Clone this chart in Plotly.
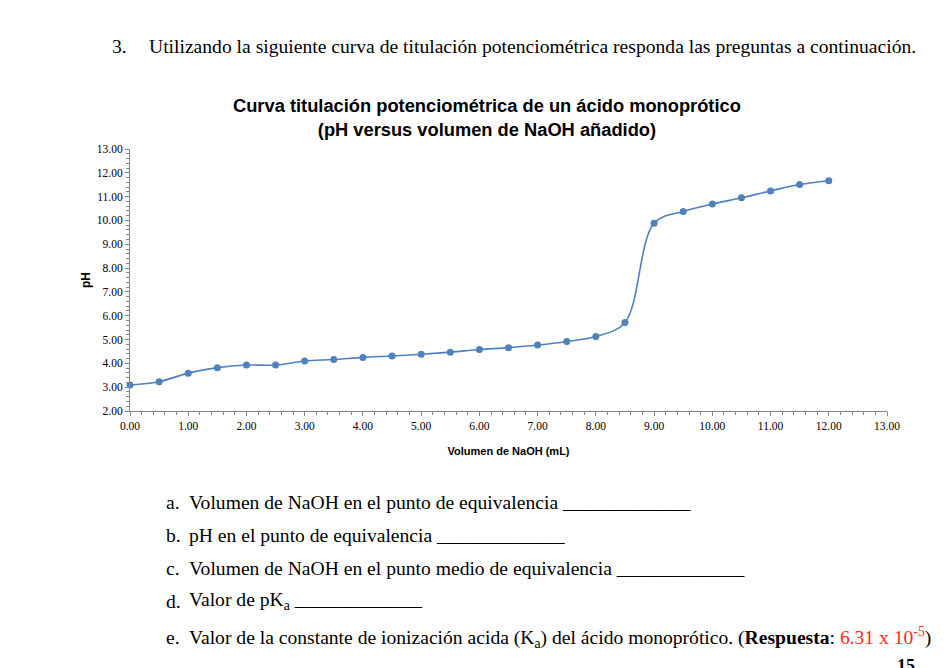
import plotly.graph_objects as go

volumen_naoh = [0.0, 0.5, 1.0, 1.5, 2.0, 2.5, 3.0, 3.5, 4.0, 4.5, 5.0, 5.5, 6.0,
                6.5, 7.0, 7.5, 8.0, 8.5, 9.0, 9.5, 10.0, 10.5, 11.0, 11.5, 12.0]
ph_values = [3.09, 3.23, 3.59, 3.82, 3.93, 3.93, 4.10, 4.16, 4.25, 4.31, 4.38, 4.47, 4.58,
             4.66, 4.77, 4.92, 5.13, 5.72, 9.88, 10.38, 10.69, 10.95, 11.24, 11.51, 11.67]

x_ticks = [i * 1.0 for i in range(14)]
y_ticks = [float(i) for i in range(2, 14)]

chart_title = "Curva titulación potenciométrica de un ácido monoprótico<br>(pH versus volumen de NaOH añadido)"
x_title = "Volumen de NaOH (mL)"
y_title = "pH"

heading_num = "3."
heading_text = "Utilizando la siguiente curva de titulación potenciométrica responda las preguntas a continuación."
q_letters = ["a.", "b.", "c.", "d.", "e."]
q_texts = [
    "Volumen de NaOH en el punto de equivalencia _____________",
    "pH en el punto de equivalencia _____________",
    "Volumen de NaOH en el punto medio de equivalencia _____________",
    "Valor de pK<sub>a</sub> _____________",
    "Valor de la constante de ionización acida (K<sub>a</sub>) del ácido monoprótico. (<b>Respuesta</b>: "
    "<span style='color:#FF2A1A'>6.31 x 10<sup>-5</sup></span>)",
]
page_number = "15"

# page has an 8px body margin: figure coords = screen coords - 8
OFF = 8
W, H = 946 - OFF, 668 - OFF
L, R, T, B = 130 - OFF, 887 - OFF, 149 - OFF, 411 - OFF
def px(x):
    return (x - OFF - L) / (R - L)
def py(y):
    return (B - (y - OFF)) / (B - T)

blue = "#4F81BD"
axis_col = "#868686"

fig = go.Figure()
fig.add_trace(go.Scatter(
    x=volumen_naoh, y=ph_values, mode="lines+markers",
    line=dict(color=blue, width=1.6, shape="spline", smoothing=1.0),
    marker=dict(color=blue, size=7),
    cliponaxis=False, showlegend=False,
))

serif = "Liberation Serif, Times New Roman, serif"
sans = "Liberation Sans, Arial, sans-serif"

fig.update_layout(
    width=W, height=H,
    margin=dict(l=L, r=W - R, t=T, b=H - B),
    paper_bgcolor="white", plot_bgcolor="white",
    xaxis=dict(
        range=[0, 13], tickvals=x_ticks, ticktext=[f"{v:.2f}" for v in x_ticks],
        showgrid=False, zeroline=False, showline=True, linecolor=axis_col, linewidth=1,
        ticks="outside", ticklen=4, tickcolor=axis_col,
        minor=dict(dtick=0.2, ticks="outside", ticklen=3, tickcolor=axis_col),
        tickfont=dict(family=serif, size=11.5, color="black"),
        title=dict(text=f"<b>{x_title}</b>", font=dict(family=sans, size=11, color="black"), standoff=16),
    ),
    yaxis=dict(
        range=[2, 13], tickvals=y_ticks, ticktext=[f"{v:.2f}" for v in y_ticks],
        showgrid=False, zeroline=False, showline=True, linecolor=axis_col, linewidth=1,
        ticks="outside", ticklen=4, tickcolor=axis_col,
        minor=dict(dtick=0.2, ticks="outside", ticklen=3, tickcolor=axis_col),
        tickfont=dict(family=serif, size=11.5, color="black"),
        title=dict(text=f"<b>{y_title}</b>", font=dict(family=sans, size=12, color="black"), standoff=3),
    ),
)

ann = []
ann.append(dict(text=f"<b>{chart_title}</b>", x=px(487), y=py(117), xref="paper", yref="paper",
                xanchor="center", yanchor="middle", showarrow=False,
                font=dict(family=sans, size=18.3, color="black")))
ann.append(dict(text=heading_num, x=px(110), y=py(47), xref="paper", yref="paper",
                xanchor="left", yanchor="middle", showarrow=False,
                font=dict(family=serif, size=19.6, color="black")))
ann.append(dict(text=heading_text, x=px(147), y=py(47), xref="paper", yref="paper",
                xanchor="left", yanchor="middle", showarrow=False,
                font=dict(family=serif, size=19.6, color="black")))
q_ys = [502, 535, 568, 601, 637]
for letter, txt, yy in zip(q_letters, q_texts, q_ys):
    ann.append(dict(text=letter, x=px(164), y=py(yy), xref="paper", yref="paper",
                    xanchor="left", yanchor="middle", showarrow=False,
                    font=dict(family=serif, size=19.6, color="black")))
    ann.append(dict(text=txt, x=px(187), y=py(yy), xref="paper", yref="paper",
                    xanchor="left", yanchor="middle", showarrow=False,
                    font=dict(family=serif, size=19.6, color="black")))
ann.append(dict(text=f"<b>{page_number}</b>", x=px(906), y=py(666), xref="paper", yref="paper",
                xanchor="center", yanchor="middle", showarrow=False,
                font=dict(family=serif, size=18, color="black")))
fig.update_layout(annotations=ann)

fig.write_html("out.html")
